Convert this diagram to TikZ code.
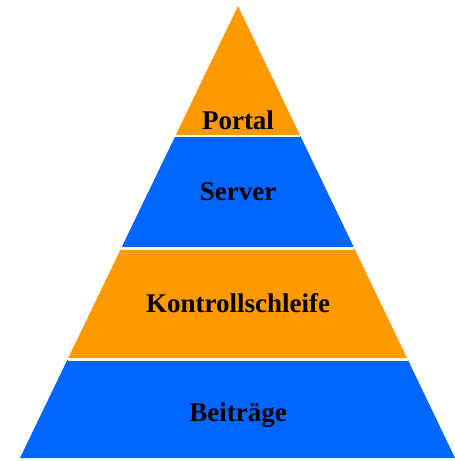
\documentclass[tikz,border=0pt]{standalone}
\usepackage{fontspec}
\setmainfont{Liberation Serif}
\usepackage{xcolor}
\usepackage{tikz}
\usetikzlibrary{calc}

\definecolor{pyrorange}{RGB}{255,153,0}
\definecolor{pyrblue}{RGB}{0,102,255}
\definecolor{gapline}{RGB}{250,246,228}

\begin{document}
\begin{tikzpicture}[x=1pt,y=-1pt,
	layer/.style={font=\bfseries\fontsize{27}{27}\selectfont, text=black}]
	\useasboundingbox (0,0) rectangle (455,461);
	%\draw (apex) -- (bl) -- (br) -- cycle;
	\coordinate (apex) at (238,6);
	\coordinate (bl) at (20,458);
	\coordinate (br) at (455,458);

	\foreach \ta/\tb/\col in {0/0.2876/pyrorange, 0.2876/0.5365/pyrblue,
		0.5365/0.7821/pyrorange, 0.7821/1/pyrblue}
		\fill[\col] ($(apex)!\ta!(bl)$) -- ($(apex)!\tb!(bl)$)
			-- ($(apex)!\tb!(br)$) -- ($(apex)!\ta!(br)$) -- cycle;

	\foreach \t in {0.2876, 0.5365, 0.7821}
		\draw[gapline, line width=2.5pt] ($(apex)!\t!(bl)$) -- ($(apex)!\t!(br)$);

	\node[layer] (portal) at (238,120) {Portal};
	\node[layer] (server) at (238,192) {Server};
	\node[layer] (kontroll) at (238,303) {Kontrollschleife};
	\node[layer] (beitraege) at (238,415) {Beiträge};

\end{tikzpicture}
\end{document}
